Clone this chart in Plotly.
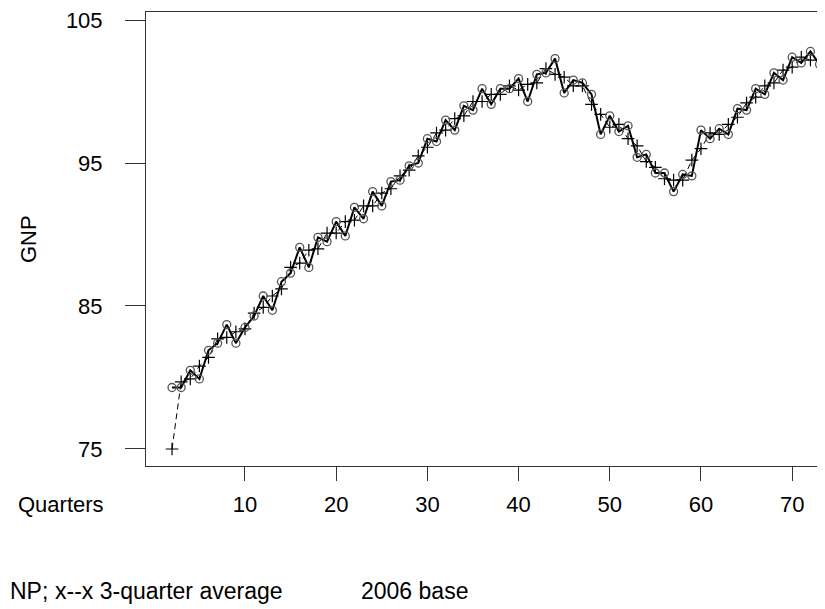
import plotly.graph_objects as go

quarters = list(range(2, 74))
gnp = [79.3, 79.3, 80.5, 79.9, 81.9, 82.4, 83.7, 82.4, 83.5, 84.3,
       85.7, 84.7, 86.7, 87.3, 89.1, 87.7, 89.8, 89.5, 90.9, 89.9,
       91.9, 91.1, 93.0, 92.0, 93.7, 93.8, 94.8, 95.0, 96.7, 96.5,
       98.0, 97.3, 99.0, 98.7, 100.2, 99.1, 100.2, 100.2, 100.9, 99.3,
       101.2, 101.3, 102.3, 99.9, 100.8, 100.6, 99.8, 97.0, 98.3, 97.2,
       97.6, 95.4, 95.6, 94.3, 94.3, 93.0, 94.2, 94.1, 97.3, 96.7,
       97.4, 97.0, 98.8, 98.7, 100.2, 99.8, 101.3, 100.8, 102.4, 102.0,
       102.8, 101.9]

ma_quarters = list(range(2, 73))
ma3 = [75.0, 79.7, 79.9, 80.8, 81.4, 82.7, 82.8, 83.2, 83.4, 84.5,
       84.9, 85.7, 86.2, 87.7, 88.0, 88.9, 89.0, 90.1, 90.1, 90.9,
       91.0, 92.0, 92.0, 92.9, 93.2, 94.1, 94.5, 95.5, 96.1, 97.1,
       97.3, 98.1, 98.3, 99.3, 99.3, 99.8, 99.8, 100.4, 100.1, 100.5,
       100.6, 101.6, 101.2, 101.0, 100.4, 100.4, 99.1, 98.4, 97.5, 97.7,
       96.7, 96.2, 95.1, 94.7, 93.9, 93.8, 93.8, 95.2, 96.0, 97.1,
       97.0, 97.7, 98.2, 99.2, 99.6, 100.4, 100.6, 101.5, 101.7, 102.4,
       102.2]

x_ticks = [10, 20, 30, 40, 50, 60, 70]
y_ticks = [75, 85, 95, 105]

FONT = "Liberation Sans, Arial, sans-serif"

fig = go.Figure()
fig.add_trace(go.Scatter(
    x=ma_quarters, y=ma3, mode="lines+markers",
    line=dict(color="black", width=1, dash="6px,4px"),
    marker=dict(symbol="cross-thin-open", size=9, line=dict(color="black", width=1.2)),
    showlegend=False, cliponaxis=True))
fig.add_trace(go.Scatter(
    x=quarters, y=gnp, mode="lines+markers",
    line=dict(color="black", width=2),
    marker=dict(symbol="circle-open", size=8, color="#555555", line=dict(width=1.3)),
    showlegend=False, cliponaxis=True))

# The page adds an 8px body margin, so the figure is drawn 8px smaller and shifted.
fig.update_layout(
    width=817, height=601,
    margin=dict(l=138, r=0, t=4, b=143),
    paper_bgcolor="white", plot_bgcolor="white",
    font=dict(family=FONT, size=22, color="black"),
    xaxis=dict(range=[-0.855, 73.6], tickvals=x_ticks, ticks="outside", ticklen=14,
               tickcolor="#333333", tickwidth=1, showline=True, linecolor="#333333",
               linewidth=1, mirror=True, showgrid=False, zeroline=False,
               ticklabelstandoff=5, ticklabeloverflow="allow"),
    yaxis=dict(range=[73.81, 105.56], tickvals=y_ticks, ticks="outside", ticklen=20,
               tickcolor="#333333", tickwidth=1, showline=True, linecolor="#333333",
               linewidth=1, mirror=False, showgrid=False, zeroline=False,
               ticklabelstandoff=18, ticklabeloverflow="allow"),
    annotations=[
        dict(text="GNP", x=-0.1738, y=0.5, xref="paper", yref="paper", textangle=-90,
             showarrow=False, xanchor="center", yanchor="middle", font=dict(size=22)),
        dict(text="Quarters", x=-0.1252, y=-0.0859, xref="paper", yref="paper",
             showarrow=False, xanchor="center", yanchor="middle", font=dict(size=22)),
        dict(text="NP;", x=-138 / 679, y=-0.2753, xref="paper", yref="paper",
             showarrow=False, xanchor="left", yanchor="middle", font=dict(size=23)),
        dict(text="x--x 3-quarter average", x=(53 - 146) / 679, y=-0.2753, xref="paper",
             yref="paper", showarrow=False, xanchor="left", yanchor="middle", font=dict(size=23)),
        dict(text="2006 base", x=(359 - 146) / 679, y=-0.2753, xref="paper", yref="paper",
             showarrow=False, xanchor="left", yanchor="middle", font=dict(size=23)),
    ],
)

fig.write_html("out.html")
